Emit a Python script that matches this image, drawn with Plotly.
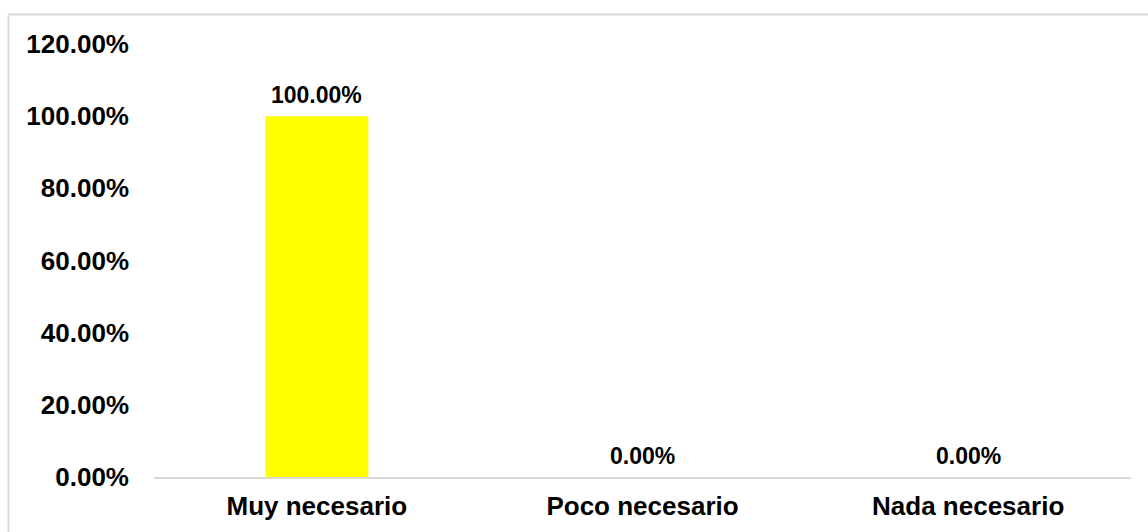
import plotly.graph_objects as go

categorias = ["Muy necesario", "Poco necesario", "Nada necesario"]
porcentajes = [1.00, 0.00, 0.00]
etiquetas = ["100.00%", "0.00%", "0.00%"]
tick_vals = [0, 0.2, 0.4, 0.6, 0.8, 1.0, 1.2]
tick_text = ["0.00%", "20.00%", "40.00%", "60.00%", "80.00%", "100.00%", "120.00%"]

fuente = "Liberation Sans, Arial, sans-serif"

fig = go.Figure(
    go.Bar(
        x=categorias,
        y=porcentajes,
        marker=dict(color="#FFFF00", line=dict(width=0)),
        width=0.316,
    )
)

# value labels just above each bar
for cat, val, txt in zip(categorias, porcentajes, etiquetas):
    fig.add_annotation(
        x=cat, y=val, text=txt, showarrow=False,
        yanchor="bottom", yshift=6,
        font=dict(family=fuente, size=23, color="#000000", weight="bold"),
    )

W, H = 1148, 532
ml, mr, mt, mb = 154, 17, 44, 55
pw, ph = W - ml - mr, H - mt - mb

# light grey frame around the chart area (top and left edges)
x0 = (8.5 - ml) / pw
y0 = (H - 14.5 - mb) / ph
fig.add_shape(type="line", xref="paper", yref="paper", x0=x0, x1=1.2, y0=y0, y1=y0,
              line=dict(color="#d9d9d9", width=2))
fig.add_shape(type="line", xref="paper", yref="paper", x0=x0, x1=x0, y0=y0, y1=-0.3,
              line=dict(color="#d9d9d9", width=2))

fig.update_layout(
    width=W,
    height=H,
    margin=dict(l=ml, r=mr, t=mt, b=mb),
    paper_bgcolor="white",
    plot_bgcolor="white",
    showlegend=False,
    font=dict(family=fuente, color="#000000"),
    bargap=0.684,
)
fig.update_xaxes(
    showline=True,
    linecolor="#d9d9d9",
    linewidth=2,
    ticks="",
    tickfont=dict(family=fuente, size=26, color="#000000", weight="bold"),
    showgrid=False,
    ticklabelstandoff=5,
    automargin=False,
)
fig.update_yaxes(
    range=[0, 1.2],
    tickvals=tick_vals,
    ticktext=tick_text,
    tickfont=dict(family=fuente, size=26, color="#000000", weight="bold"),
    showgrid=False,
    zeroline=False,
    showline=False,
    ticks="",
    ticklabelstandoff=24,
    automargin=False,
)

fig.write_html("out.html")
